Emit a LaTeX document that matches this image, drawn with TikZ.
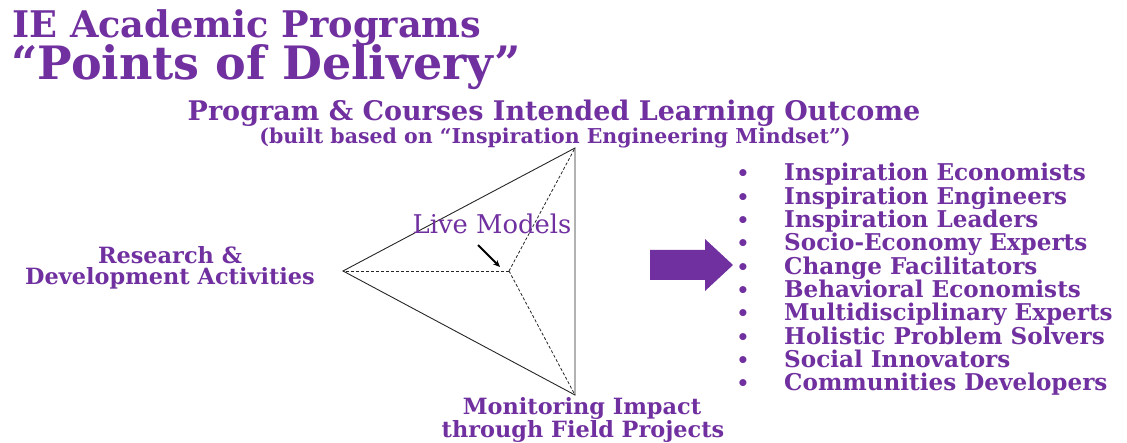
\documentclass[tikz,border=0pt]{standalone}
\usepackage{fontspec}
\setmainfont{DejaVu Serif}
\usetikzlibrary{arrows.meta}
\definecolor{iepurple}{HTML}{7030A0}
\tikzset{
  ptxt/.style={text=iepurple, inner sep=0pt, font=\bfseries},
  item/.style={ptxt, anchor=base west, font=\bfseries\fontsize{23.1}{23}\selectfont},
  bul/.style={text=iepurple, inner sep=0pt, anchor=base, font=\bfseries\fontsize{20}{20}\selectfont},
  side/.style={ptxt, anchor=base, font=\bfseries\fontsize{22.4}{23}\selectfont},
  edge/.style={line width=0.9pt, black!85},
  dashedge/.style={line width=0.8pt, black!85, dashed, dash pattern=on 3pt off 2pt},
}
\begin{document}
\begin{tikzpicture}[x=1pt, y=-1pt]
\useasboundingbox (0,0) rectangle (1127,443);
% titles
\node[ptxt, anchor=base west, font=\bfseries\fontsize{36.7}{37}\selectfont] (t1) at (12,38) {IE Academic Programs};
\node[ptxt, anchor=base west, font=\bfseries\fontsize{46}{46}\selectfont] (t2) at (11,80) {“Points of Delivery”};
\node[ptxt, anchor=base, font=\bfseries\fontsize{27}{27}\selectfont] (h1) at (554,121) {Program \& Courses Intended Learning Outcome};
\node[ptxt, anchor=base, font=\bfseries\fontsize{20.5}{21}\selectfont] (h2) at (555,144) {(built based on “Inspiration Engineering Mindset”)};
% triangle
\coordinate (A) at (575,148);
\coordinate (B) at (575,395);
\coordinate (L) at (343,271);
\coordinate (C) at (509,271);
\draw[edge] (L) -- (A) -- (B) -- cycle;
\draw[dashedge] (C) -- (L);
\draw[dashedge] (C) -- (A);
\draw[dashedge] (C) -- (B);
\node[text=iepurple, inner sep=0pt, anchor=base, font=\fontsize{25.8}{26}\selectfont] (lm) at (492,234) {Live Models};
\coordinate (lmtip) at (500,267);
\draw[line width=2pt, -{Stealth[length=7pt,width=6pt]}] (478,245) -- (lmtip);
% side labels
\node[side] (rd1) at (170,264) {Research \&};
\node[side] (rd2) at (170,285) {Development Activities};
\node[side] (mi1) at (582,414) {Monitoring Impact};
\node[side] (mi2) at (583,437) {through Field Projects};
% big arrow
\fill[iepurple] (650,250) -- (705,250) -- (705,239) -- (733,265) -- (705,291) -- (705,280) -- (650,280) -- cycle;
% list
\foreach \t [count=\i from 0] in {Inspiration Economists, Inspiration Engineers, Inspiration Leaders, Socio-Economy Experts, Change Facilitators, Behavioral Economists, Multidisciplinary Experts, Holistic Problem Solvers, Social Innovators, Communities Developers}{
  \node[bul] (b\i) at (743,{181+23.3*\i}) {•};
  \node[item] (l\i) at (784,{181+23.3*\i}) {\t};
}
\end{tikzpicture}
\end{document}
